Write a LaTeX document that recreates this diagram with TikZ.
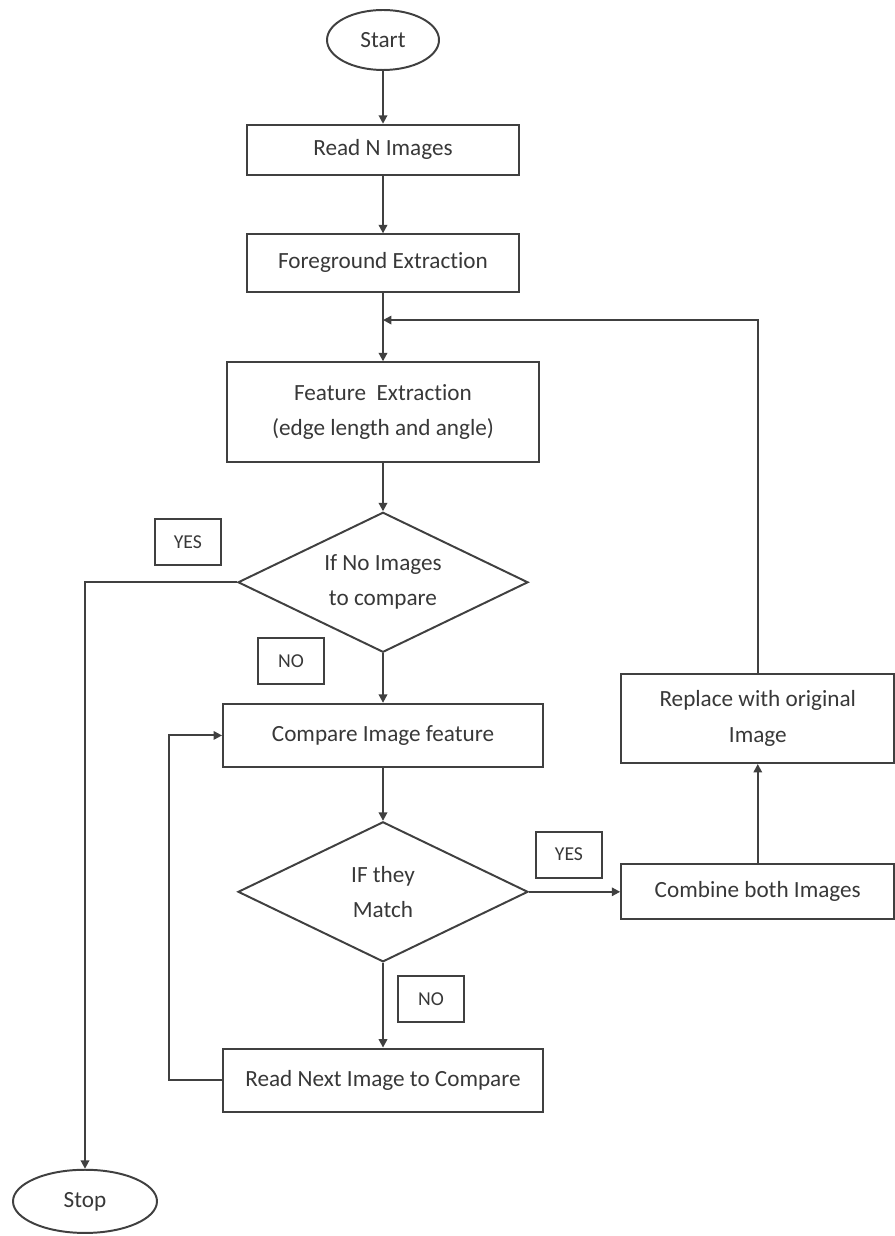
\documentclass[tikz,border=0pt]{standalone}
\usepackage{fontspec}
\setmainfont{Carlito}[Ligatures=CommonOff]
\usetikzlibrary{positioning}
\usetikzlibrary{arrows.meta}
\usetikzlibrary{calc}
\usetikzlibrary{shapes.geometric}

\begin{document}
\begin{tikzpicture}[ align             = center
                   , font              = \fontsize{16.5}{25}\selectfont
                   , every node/.style = { draw       = black!75
                                         , line width = 1.4pt
                                         , text       = black!78
                                         , align      = center
                                         }
                   % Use small filled triangle tips
                   , >={Triangle[width=6pt, length=6pt]}
                   ]

  \useasboundingbox (0,0) rectangle (22.35,-30.9);

  %%
  %% Node types
  %%
  \tikzset{ term/.style={ellipse, inner sep=0pt}
          , stepbox/.style={rectangle}
          , decision/.style={diamond, aspect=2, inner sep=0pt, minimum width=7.25cm, minimum height=3.5cm}
          , tag/.style={rectangle, font=\fontsize{14}{16}\selectfont, minimum width=1.65cm, minimum height=1.15cm}
          }

  %%
  %% Arrow types
  %%
  \tikzset{ flow/.style={->, draw=black!75, line width=1.4pt}
          }

  %%
  %% Nodes
  %%
  \node (start) [term, minimum width=2.8cm, minimum height=1.5cm] at (9.575,-1.0) {Start};
  \node (read)  [stepbox, minimum width=6.8cm, minimum height=1.25cm, below = 1.32cm of start] {Read N Images};
  \node (fg)    [stepbox, minimum width=6.8cm, minimum height=1.43cm, below = 1.44cm of read] {Foreground Extraction};
  \node (feat)  [stepbox, minimum width=7.8cm, minimum height=2.5cm, below = 1.72cm of fg] {Feature\ \ Extraction\\(edge length and angle)};
  \node (dec1)  [decision, below = 1.2cm of feat] {If No Images\\to compare};
  \node (cmp)   [stepbox, minimum width=8cm, minimum height=1.58cm, below = 1.24cm of dec1] {Compare Image feature};
  \node (dec2)  [decision, below = 1.32cm of cmp] {IF they\\Match};
  \node (next)  [stepbox, minimum width=8cm, minimum height=1.58cm, below = 2.12cm of dec2] {Read Next Image to Compare};

  \node (comb)  [stepbox, minimum width=6.83cm, minimum height=1.38cm, right = 2.28cm of dec2] {Combine both Images};
  \node (repl)  [stepbox, minimum width=6.83cm, minimum height=2.23cm, above = 2.48cm of comb] {Replace with original\\Image};

  \node (stop)  [term, minimum width=3.6cm, minimum height=1.58cm, below = 1.4cm of next, xshift=-7.45cm] {Stop};

  %%% Yes / no tags
  \node (yes1) [tag, above left = 0.4cm and 0.38cm of dec1.west] {YES};
  \node (no1)  [tag, left = 1.45cm of dec1.south, yshift=-0.2cm] {NO};
  \node (yes2) [tag, above right = 0.33cm and 0.15cm of dec2.east] {YES};
  \node (no2)  [tag, below right = 0.3cm and 0.35cm of dec2.south] {NO};

  \coordinate (join) at ($(fg.south)!0.4!(feat.north)$);
  \coordinate (loop) at ($(next.west)+(-1.33,0)$);

  %%
  %% Relationships between nodes
  %%
  \draw[flow] (start) -- (read);
  \draw[flow] (read) -- (fg);
  \draw[flow] (fg) -- (feat);
  \draw[flow] (feat) -- (dec1);
  \draw[flow] (dec1) -- (cmp);
  \draw[flow] (cmp) -- (dec2);
  \draw[flow] (dec2) -- (next);

  %%% Match found
  \draw[flow] (dec2) -- (comb);
  \draw[flow] (comb) -- (repl);
  \draw[flow] (repl.north) |- (join);

  %%% No images left
  \draw[flow] (dec1.west) -| (stop.north);

  %%% Next image
  \draw[flow] (next.west) -- (loop) |- (cmp.west);

\end{tikzpicture}
\end{document}
